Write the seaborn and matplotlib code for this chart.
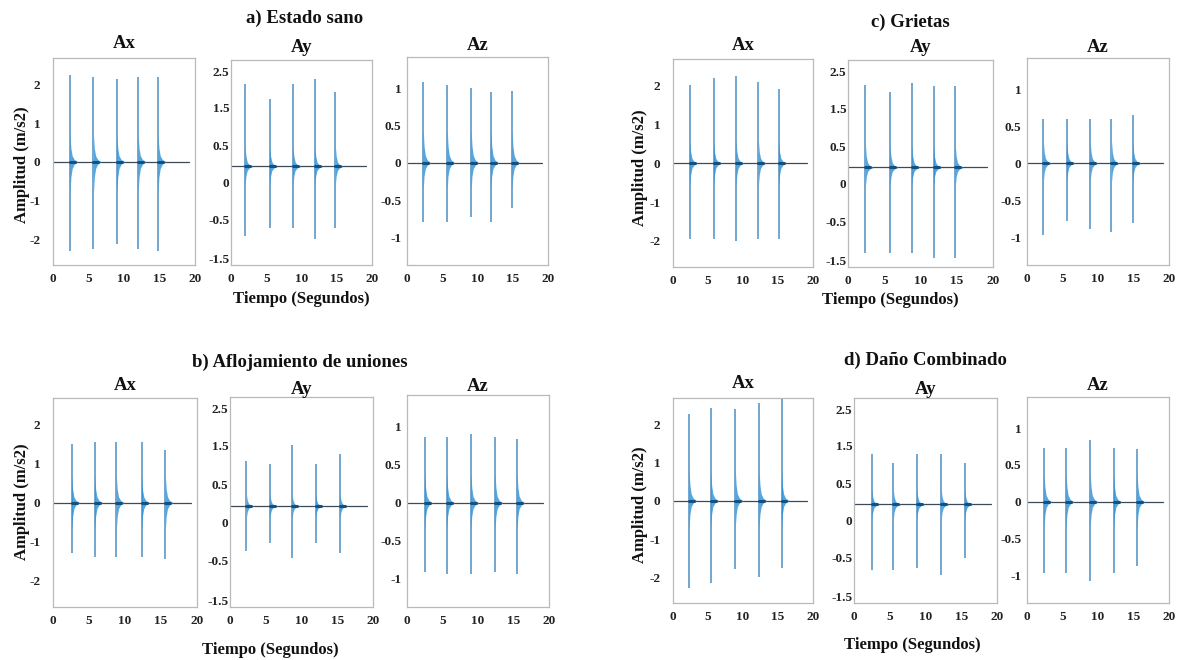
import matplotlib
matplotlib.use('Agg')
import matplotlib.pyplot as plt
import numpy as np
import pandas as pd
import seaborn as sns

W, H = 1184, 660

# ---------------- data ----------------
GROUP_TITLES = ['a) Estado sano', 'b) Aflojamiento de uniones', 'c) Grietas', 'd) Daño Combinado']
PANEL_TITLES = ['Ax', 'Ay', 'Az']
XLABEL = 'Tiempo (Segundos)'
YLABEL = 'Amplitud (m/s2)'

TIME_TICKS = [0, 5, 10, 15, 20]
AX_TICKS = [2, 1, 0, -1, -2]
AX_TICK_LABELS = ['2', '1', '0', '-1', '-2']
AY_TICKS = [2.55, 1.57, 0.56, -0.42, -1.42, -2.46]
AY_TICK_LABELS = ['2.5', '1.5', '0.5', '0', '-0.5', '-1.5']
AZ_TICKS = [1, 0.5, 0, -0.5, -1]
AZ_TICK_LABELS = ['1', '0.5', '0', '-0.5', '-1']

# a) Estado sano
a_x_t = [2.4, 5.7, 9.0, 12.0, 14.8]
a_x_hi = [2.25, 2.2, 2.15, 2.2, 2.2]
a_x_lo = [-2.3, -2.25, -2.12, -2.25, -2.3]
a_y_t = [2.0, 5.5, 8.8, 11.9, 14.8]
a_y_hi = [2.2, 1.8, 2.2, 2.35, 2.0]
a_y_lo = [-1.85, -1.65, -1.65, -1.95, -1.65]
a_z_t = [2.3, 5.7, 9.1, 11.9, 14.9]
a_z_hi = [1.08, 1.05, 1.0, 0.95, 0.97]
a_z_lo = [-0.79, -0.79, -0.72, -0.79, -0.6]
# b) Aflojamiento de uniones
b_x_t = [2.6, 5.8, 8.8, 12.3, 15.6]
b_x_hi = [1.5, 1.55, 1.55, 1.55, 1.35]
b_x_lo = [-1.3, -1.4, -1.4, -1.4, -1.45]
b_y_t = [2.3, 5.6, 8.7, 12.0, 15.4]
b_y_hi = [1.17, 1.1, 1.6, 1.1, 1.35]
b_y_lo = [-1.17, -0.96, -1.35, -0.96, -1.22]
b_z_t = [2.5, 5.6, 9.0, 12.4, 15.5]
b_z_hi = [0.87, 0.87, 0.91, 0.87, 0.84]
b_z_lo = [-0.91, -0.93, -0.93, -0.91, -0.93]
# c) Grietas
c_x_t = [2.4, 5.8, 9.0, 12.2, 15.1]
c_x_hi = [2.0, 2.2, 2.25, 2.1, 1.9]
c_x_lo = [-1.96, -1.96, -2.0, -1.96, -1.96]
c_y_t = [2.4, 5.8, 8.8, 11.8, 14.8]
c_y_hi = [2.2, 2.0, 2.25, 2.15, 2.15]
c_y_lo = [-2.28, -2.28, -2.28, -2.41, -2.41]
c_z_t = [2.3, 5.6, 8.9, 11.9, 14.9]
c_z_hi = [0.6, 0.6, 0.6, 0.6, 0.65]
c_z_lo = [-0.96, -0.78, -0.89, -0.93, -0.8]
# d) Daño Combinado
d_x_t = [2.3, 5.4, 8.9, 12.3, 15.5]
d_x_hi = [2.25, 2.43, 2.39, 2.56, 2.65]
d_x_lo = [-2.27, -2.14, -1.79, -2.0, -1.75]
d_y_t = [2.5, 5.5, 8.8, 12.2, 15.5]
d_y_hi = [1.35, 1.12, 1.35, 1.35, 1.12]
d_y_lo = [-1.75, -1.75, -1.7, -1.88, -1.44]
d_z_t = [2.4, 5.5, 8.9, 12.2, 15.5]
d_z_hi = [0.73, 0.73, 0.84, 0.73, 0.71]
d_z_lo = [-0.96, -0.96, -1.07, -0.96, -0.87]

# dense decaying part near each impact (upper, lower), per group and axis
core_a = [(0.7, -0.8), (0.55, -0.5), (0.45, -0.35)]
core_b = [(0.7, -0.7), (0.3, -0.3), (0.4, -0.35)]
core_c = [(0.6, -0.6), (0.6, -0.5), (0.3, -0.25)]
core_d = [(0.8, -0.7), (0.4, -0.4), (0.4, -0.35)]
# decay profile of the dense part after each impact (s, relative amplitude)
TAIL_OFFSETS = [0.0, 0.12, 0.3, 0.6, 1.1]
TAIL_REL = [1.0, 0.5, 0.22, 0.08, 0.0]
BASE_END = 19.2

SERIES = [
    [(a_x_t, a_x_hi, a_x_lo), (a_y_t, a_y_hi, a_y_lo), (a_z_t, a_z_hi, a_z_lo)],
    [(b_x_t, b_x_hi, b_x_lo), (b_y_t, b_y_hi, b_y_lo), (b_z_t, b_z_hi, b_z_lo)],
    [(c_x_t, c_x_hi, c_x_lo), (c_y_t, c_y_hi, c_y_lo), (c_z_t, c_z_hi, c_z_lo)],
    [(d_x_t, d_x_hi, d_x_lo), (d_y_t, d_y_hi, d_y_lo), (d_z_t, d_z_hi, d_z_lo)],
]
CORES = [core_a, core_b, core_c, core_d]

# ---------------- layout (pixels) ----------------
BOXES = [
    [(53, 58, 195, 265), (231, 60, 372, 265), (407, 57, 548, 265)],
    [(53, 398, 197, 607), (230, 397, 373, 607), (407, 395, 549, 607)],
    [(673, 59, 813, 267), (848, 60, 993, 267), (1027, 58, 1169, 265)],
    [(673, 398, 813, 603), (854, 398, 997, 603), (1027, 397, 1169, 603)],
]
PANEL_TITLE_Y = [(43, 48, 45), (385, 389, 387), (46, 47, 47), (383, 389, 385)]
GROUP_TITLE_XY = [(305, 18), (300, 362), (910, 22), (925, 360)]
XLABEL_XY = [(301, 299), (270, 650), (890, 300), (912, 645)]
YLABEL_XY = [(22, 165), (22, 502), (640, 168), (640, 505)]
YLIMS = [(-2.67, 2.68), (-2.64, 2.85), (-1.37, 1.42)]
YTICKS = [(AX_TICKS, AX_TICK_LABELS), (AY_TICKS, AY_TICK_LABELS), (AZ_TICKS, AZ_TICK_LABELS)]
YPADS = [9, 1, 4]

sns.set_theme(style='white')
plt.rcParams['font.family'] = ['Liberation Serif', 'DejaVu Serif']
plt.rcParams['font.weight'] = 'bold'

fig = plt.figure(figsize=(W / 100, H / 100), dpi=100)
fig.patch.set_facecolor('white')

SPIKE_COLOR = '#3f86bd'
CORE_COLOR = '#1a8ad8'
BASE_COLOR = '#3c4a58'
FRAME_COLOR = '#b9b9b9'


def px(x, y):
    return x / W, 1 - y / H


for g in range(4):
    for p in range(3):
        l, t, r, b = BOXES[g][p]
        ax = fig.add_axes([l / W, 1 - b / H, (r - l) / W, (b - t) / H])
        times, his, los = SERIES[g][p]
        chi, clo = CORES[g][p]

        base = pd.DataFrame({'t': [0.0, BASE_END], 'v': [0.0, 0.0]})
        sns.lineplot(data=base, x='t', y='v', ax=ax, color=BASE_COLOR, lw=0.9, zorder=2)

        ax.vlines(times, los, his, color=SPIKE_COLOR, lw=1.2, alpha=0.85, zorder=3)
        for tt in times:
            xs = [tt + o for o in TAIL_OFFSETS]
            up = [chi * rr for rr in TAIL_REL]
            dn = [clo * rr for rr in TAIL_REL]
            ax.fill_between(xs, dn, up, color=CORE_COLOR, alpha=0.75, lw=0, zorder=4)
            ax.plot([tt, tt + 0.7], [0, 0], color='#16507e', lw=2.2, zorder=5,
                    solid_capstyle='round')

        ax.set_xlim(0, 20)
        ax.set_ylim(*YLIMS[p])
        ax.set_xticks(TIME_TICKS)
        ax.set_xticklabels([str(v) for v in TIME_TICKS])
        ax.set_yticks(YTICKS[p][0])
        ax.set_yticklabels(YTICKS[p][1])
        ax.tick_params(axis='both', length=0, labelsize=9.5, colors='#222222')
        ax.tick_params(axis='x', pad=6)
        ax.tick_params(axis='y', pad=YPADS[p])
        for lab in ax.get_xticklabels() + ax.get_yticklabels():
            lab.set_fontweight('bold')
        ax.set_xlabel('')
        ax.set_ylabel('')
        for s in ax.spines.values():
            s.set_visible(True)
            s.set_color(FRAME_COLOR)
            s.set_linewidth(0.9)
        ax.set_facecolor('white')

        fig.text(*px((l + r) / 2, PANEL_TITLE_Y[g][p]), PANEL_TITLES[p], ha='center', va='center',
                 fontsize=13.5, fontweight='bold', color='#111111')

    fig.text(*px(*GROUP_TITLE_XY[g]), GROUP_TITLES[g], ha='center', va='center',
             fontsize=13.5, fontweight='bold', color='#111111')
    fig.text(*px(*XLABEL_XY[g]), XLABEL, ha='center', va='center',
             fontsize=12, fontweight='bold', color='#111111')
    fig.text(*px(*YLABEL_XY[g]), YLABEL, ha='center', va='center', rotation=90,
             fontsize=12, fontweight='bold', color='#111111')

fig.savefig('out.png', dpi=100, facecolor='white')
